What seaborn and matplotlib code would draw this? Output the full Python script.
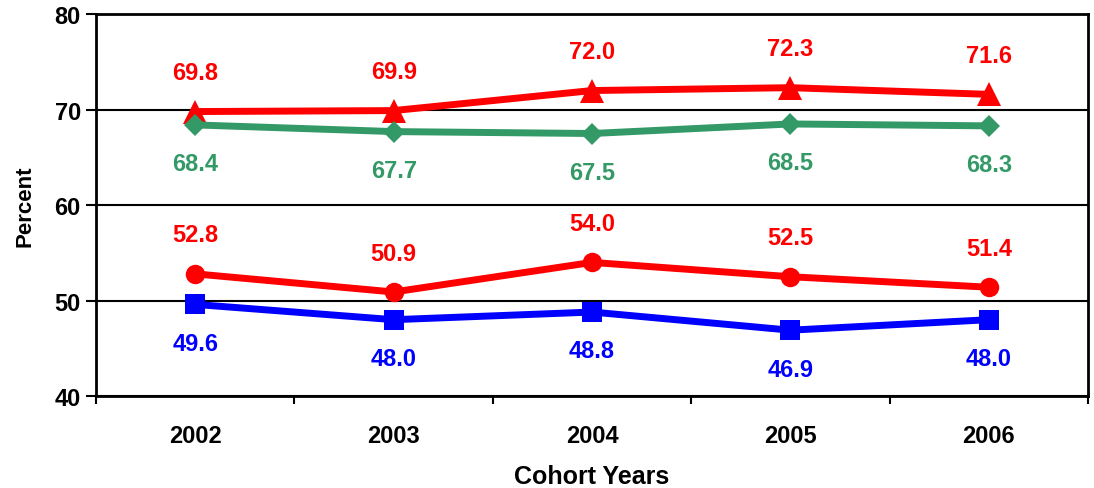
import pandas as pd
import seaborn as sns
import matplotlib.pyplot as plt
from matplotlib.ticker import FixedLocator

# Chart values
years = ["2002", "2003", "2004", "2005", "2006"]
red_triangle = [69.8, 69.9, 72.0, 72.3, 71.6]
green_diamond = [68.4, 67.7, 67.5, 68.5, 68.3]
red_circle = [52.8, 50.9, 54.0, 52.5, 51.4]
blue_square = [49.6, 48.0, 48.8, 46.9, 48.0]

series = [
    ("triangle", red_triangle, "#FF0000", "^", 17, 1),
    ("diamond", green_diamond, "#339966", "D", 11, -1),
    ("circle", red_circle, "#FF0000", "o", 14, 1),
    ("square", blue_square, "#0000FF", "s", 15, -1),
]

sns.set_style("white")
plt.rcParams["font.family"] = ["Liberation Sans", "DejaVu Sans"]
plt.rcParams["font.weight"] = "bold"
plt.rcParams["text.color"] = "black"
plt.rcParams["axes.labelcolor"] = "black"
plt.rcParams["xtick.color"] = "black"
plt.rcParams["ytick.color"] = "black"

fig = plt.figure(figsize=(10.94, 4.89), dpi=100)
ax = fig.add_axes([0.0878, 0.188, 0.9067, 0.781])

for name, vals, color, marker, ms, side in series:
    df = pd.DataFrame({"x": range(len(years)), "y": vals})
    sns.lineplot(data=df, x="x", y="y", ax=ax, color=color, linewidth=5,
                 marker=marker, markersize=ms, markeredgewidth=0, zorder=3)
    for i, v in enumerate(vals):
        ax.annotate(f"{v:.1f}", (i, v), xytext=(0, 28 * side), textcoords="offset points",
                    ha="center", va="center", color=color, fontsize=17, fontweight="bold")

ax.set_xlim(-0.5, 4.5)
ax.set_ylim(40, 80)
ax.set_yticks([40, 50, 60, 70, 80])
ax.yaxis.grid(True, color="black", linewidth=1.5)
ax.set_xticks(range(len(years)))
ax.set_xticklabels(years)
ax.xaxis.set_minor_locator(FixedLocator([-0.5, 0.5, 1.5, 2.5, 3.5, 4.5]))
ax.tick_params(axis="x", which="major", length=0, pad=20, labelsize=17)
ax.tick_params(axis="x", which="minor", length=6, width=1.5, direction="out", bottom=True, color="black")
ax.tick_params(axis="y", length=7, width=1.5, direction="out", left=True, labelsize=17, pad=4, color="black")

for s in ax.spines.values():
    s.set_color("black")
    s.set_linewidth(2)

ax.set_xlabel("Cohort Years", fontsize=18, fontweight="bold", labelpad=12)
ax.set_ylabel("Percent", fontsize=16, fontweight="bold", labelpad=14)

fig.savefig("out.png", dpi=100)
